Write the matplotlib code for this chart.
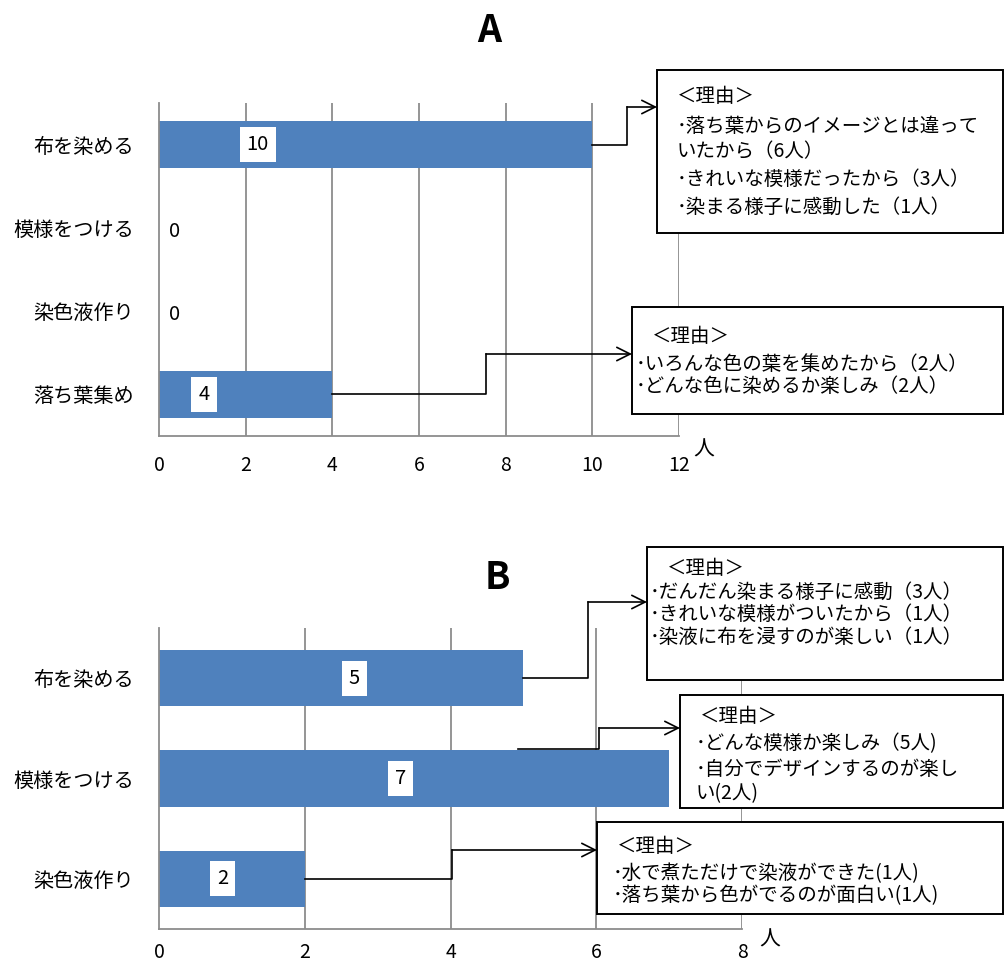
import matplotlib
matplotlib.use('Agg')
import matplotlib.pyplot as plt
from matplotlib.lines import Line2D
from matplotlib.patches import Rectangle, FancyArrowPatch

plt.rcParams['font.family'] = ['Noto Sans CJK JP', 'DejaVu Sans']

# Datos
cats_a = ['布を染める', '模様をつける', '染色液作り', '落ち葉集め']
vals_a = [10, 0, 0, 4]
ticks_a = [0, 2, 4, 6, 8, 10, 12]

cats_b = ['布を染める', '模様をつける', '染色液作り']
vals_b = [5, 7, 2]
ticks_b = [0, 2, 4, 6, 8]

reasons_a1 = ['＜理由＞', '･落ち葉からのイメージとは違って', 'いたから（6人）',
              '･きれいな模様だったから（3人）', '･染まる様子に感動した（1人）']
reasons_a2 = ['＜理由＞', '･いろんな色の葉を集めたから（2人）', '･どんな色に染めるか楽しみ（2人）']
reasons_b1 = ['＜理由＞', '･だんだん染まる様子に感動（3人）', '･きれいな模様がついたから（1人）',
              '･染液に布を浸すのが楽しい（1人）']
reasons_b2 = ['＜理由＞', '･どんな模様か楽しみ（5人)', '･自分でデザインするのが楽し', 'い(2人)']
reasons_b3 = ['＜理由＞', '･水で煮ただけで染液ができた(1人)', '･落ち葉から色がでるのが面白い(1人)']

# posiciones x de las etiquetas (ajustadas a mano como en el original)
lab_x_a = [2.28, 0.37, 0.37, 1.04]
lab_x_b = [2.68, 3.31, 0.87]

W, H = 1005, 963
BAR = '#4F81BD'
GRID = '#8C8C8C'

fig = plt.figure(figsize=(W / 100, H / 100), dpi=100)


def frac(x, y):
    return x / W, 1 - y / H


def make_axes(l, t, r, b):
    return fig.add_axes([l / W, 1 - b / H, (r - l) / W, (b - t) / H])


def style(ax, cats, vals, ticks, labx, pad_x):
    n = len(cats)
    ax.barh(range(n), vals, height=0.56, color=BAR, zorder=2)
    ax.set_ylim(n - 0.5, -0.5)
    ax.set_xlim(ticks[0], ticks[-1])
    ax.set_xticks(ticks)
    ax.set_yticks(range(n))
    ax.set_yticklabels(cats, fontsize=14.5)
    ax.tick_params(axis='y', length=0, pad=18)
    ax.tick_params(axis='x', length=0, pad=pad_x, labelsize=14)
    for t in ticks[1:]:
        ax.axvline(t, color=GRID, lw=1.3, zorder=1)
    for s in ['top', 'right']:
        ax.spines[s].set_visible(False)
    for s in ['left', 'bottom']:
        ax.spines[s].set_color(GRID)
        ax.spines[s].set_linewidth(1.3)
    for i, v in enumerate(vals):
        if v > 0:
            ax.text(labx[i], i, str(v), fontsize=14.5, ha='center', va='center', zorder=4,
                    bbox=dict(boxstyle='square,pad=0.35', fc='white', ec='none'))
        else:
            ax.text(labx[i], i + 0.04, str(v), fontsize=14.5, ha='center', va='center', zorder=4)


ax_a = make_axes(159, 103, 679, 436)
style(ax_a, cats_a, vals_a, ticks_a, lab_x_a, 14)
ax_b = make_axes(159, 628, 742, 929)
style(ax_b, cats_b, vals_b, ticks_b, lab_x_b, 9)

fig.text(*frac(489, 30), 'A', fontsize=27, fontweight='bold', ha='center', va='center')
fig.text(*frac(497, 577), 'B', fontsize=27, fontweight='bold', ha='center', va='center')
fig.text(*frac(704, 450), '人', fontsize=15, ha='center', va='center')
fig.text(*frac(770, 940), '人', fontsize=15, ha='center', va='center')


def bar_end(ax, val, i):
    x, y = ax.transData.transform((val, i))
    return x, H - y


def box(l, t, lines, x_first, x_rest, ys, r=1003, b=None):
    fig.add_artist(Rectangle(frac(l, b), (r - l) / W, (b - t) / H,
                             transform=fig.transFigure, fc='white', ec='black',
                             lw=1.4, zorder=5))
    for k, (txt, y) in enumerate(zip(lines, ys)):
        x = x_first if k == 0 else x_rest
        # el texto CJK queda algo alto con va='center'
        fig.text(*frac(x, y + 4), txt, fontsize=14, ha='left', va='center', zorder=6)


def connector(pts):
    xs = [p[0] / W for p in pts]
    ys = [1 - p[1] / H for p in pts]
    fig.add_artist(Line2D(xs[:-1], ys[:-1], transform=fig.transFigure,
                          color='black', lw=1.2, zorder=6))
    fig.add_artist(FancyArrowPatch((xs[-2], ys[-2]), (xs[-1], ys[-1]),
                                   transform=fig.transFigure, arrowstyle='->',
                                   mutation_scale=24, lw=1.2, color='black',
                                   shrinkA=0, shrinkB=0, zorder=7))


# Cajas del gráfico A
box(657, 70, reasons_a1, 677, 677, [92, 123, 148, 175, 203], b=233)
box(632, 307, reasons_a2, 652, 636, [332, 360, 383], b=414)
# Cajas del gráfico B
box(647, 547, reasons_b1, 667, 650, [565, 588, 610, 633], b=680)
box(680, 695, reasons_b2, 700, 696, [713, 740, 765, 790], b=808)
box(597, 822, reasons_b3, 617, 613, [842, 870, 892], b=914)

x0, y0 = bar_end(ax_a, vals_a[0], 0)
connector([(x0, y0), (627, y0), (627, 107), (657, 107)])
x0, y0 = bar_end(ax_a, vals_a[3], 3)
connector([(x0, y0), (486, y0), (486, 354), (632, 354)])
x0, y0 = bar_end(ax_b, vals_b[0], 0)
connector([(x0, y0), (588, y0), (588, 602), (647, 602)])
connector([(518, 749), (599, 749), (599, 728), (680, 728)])
x0, y0 = bar_end(ax_b, vals_b[2], 2)
connector([(x0, y0), (452, y0), (452, 850), (597, 850)])

fig.savefig('out.png', dpi=100)
